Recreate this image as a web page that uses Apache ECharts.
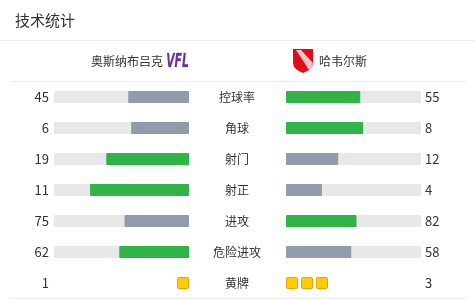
<!DOCTYPE html>
<html>
<head>
    <meta charset="utf-8" />
    <title>技术统计</title>
    <script src="https://cdn.jsdelivr.net/npm/echarts@6/dist/echarts.min.js"></script>
    <style>
        html, body { margin: 0; padding: 0; background: #fff; }
        #main { width: 475px; height: 300px; }
    </style>
</head>
<body>
    <div id="main"></div>
    <script type="text/javascript">
        var homeTeam = '奥斯纳布吕克';
        var awayTeam = '哈韦尔斯';
        var statNames = ['控球率', '角球', '射门', '射正', '进攻', '危险进攻', '黄牌'];
        var homeVals = [45, 6, 19, 11, 75, 62, 1];
        var awayVals = [55, 8, 12, 4, 82, 58, 3];
        var cardRow = 6; // 黄牌 drawn as little cards

        var GREEN = '#30b447', GREY = '#929bab', TRACK = '#e8e8e8';
        var FONT = '"Noto Sans CJK SC", "Noto Sans", sans-serif';

        function sideData(mine, theirs) {
            return mine.map(function (v, i) {
                return [v / (v + theirs[i]), i, v, v > theirs[i] ? 1 : 0];
            });
        }

        function renderRow(params, api) {
            var i = api.value(1);
            var p0 = api.coord([0, i]);
            var p1 = api.coord([1, i]);
            var dir = p1[0] > p0[0] ? 1 : -1;
            var h = 12;
            var y = p0[1] - h / 2;
            var children = [];
            if (i === cardRow) {
                var n = api.value(2);
                for (var k = 0; k < n; k++) {
                    var s = p0[0] + dir * k * 15;
                    children.push({
                        type: 'rect',
                        shape: { x: dir > 0 ? s + 0.5 : s - 11.5, y: y + 0.5, width: 11, height: 11, r: 1 },
                        style: { fill: '#ffcc00', stroke: '#e2a600', lineWidth: 1 }
                    });
                }
                return { type: 'group', children: children };
            }
            children.push({
                type: 'rect',
                shape: { x: Math.min(p0[0], p1[0]), y: y, width: Math.abs(p1[0] - p0[0]), height: h, r: 1 },
                style: { fill: TRACK }
            });
            var pf = api.coord([api.value(0), i]);
            children.push({
                type: 'rect',
                shape: { x: Math.min(p0[0], pf[0]), y: y, width: Math.abs(pf[0] - p0[0]), height: h, r: 1 },
                style: { fill: api.value(3) ? GREEN : GREY }
            });
            return { type: 'group', children: children };
        }

        var myChart = echarts.init(document.getElementById('main'));

        var option = {
            animation: false,
            grid: [
                { left: 54, width: 135, top: 81.5, height: 217 },
                { left: 286, width: 135, top: 81.5, height: 217 }
            ],
            xAxis: [
                { gridIndex: 0, type: 'value', min: 0, max: 1, inverse: true, show: false },
                { gridIndex: 1, type: 'value', min: 0, max: 1, show: false }
            ],
            yAxis: [
                {
                    gridIndex: 0, type: 'category', data: statNames, inverse: true, position: 'left',
                    axisLine: { show: false }, axisTick: { show: false }, splitLine: { show: false },
                    axisLabel: {
                        margin: 5, fontSize: 13, color: '#333', fontFamily: FONT,
                        formatter: function (v, idx) { return homeVals[idx]; }
                    }
                },
                {
                    gridIndex: 0, type: 'category', data: statNames, inverse: true, position: 'right',
                    axisLine: { show: false }, axisTick: { show: false }, splitLine: { show: false },
                    axisLabel: { margin: 48, align: 'center', fontSize: 12, color: '#333', fontFamily: FONT }
                },
                {
                    gridIndex: 1, type: 'category', data: statNames, inverse: true, position: 'right',
                    axisLine: { show: false }, axisTick: { show: false }, splitLine: { show: false },
                    axisLabel: {
                        margin: 4, fontSize: 13, color: '#333', fontFamily: FONT,
                        formatter: function (v, idx) { return awayVals[idx]; }
                    }
                }
            ],
            series: [
                {
                    type: 'custom', xAxisIndex: 0, yAxisIndex: 0,
                    renderItem: renderRow, data: sideData(homeVals, awayVals)
                },
                {
                    type: 'custom', xAxisIndex: 1, yAxisIndex: 2,
                    renderItem: renderRow, data: sideData(awayVals, homeVals)
                }
            ],
            graphic: [
                {
                    type: 'text', x: 15, y: 20,
                    style: { text: '技术统计', fontSize: 15, fill: '#333', fontFamily: FONT, verticalAlign: 'middle' }
                },
                { type: 'line', shape: { x1: 0, y1: 40.5, x2: 475, y2: 40.5 }, style: { stroke: '#ececec', lineWidth: 1 } },
                { type: 'line', shape: { x1: 10, y1: 81.5, x2: 466, y2: 81.5 }, style: { stroke: '#ececec', lineWidth: 1 } },
                { type: 'line', shape: { x1: 10, y1: 298.5, x2: 466, y2: 298.5 }, style: { stroke: '#ececec', lineWidth: 1 } },
                {
                    type: 'text', x: 163, y: 61,
                    style: { text: homeTeam, fontSize: 12, fill: '#333', fontFamily: FONT, align: 'right', verticalAlign: 'middle' }
                },
                // VfL badge
                {
                    type: 'text', x: 177.5, y: 62,
                    style: {
                        text: 'VFL', fontSize: 20, fontWeight: 'bold', fontStyle: 'italic',
                        fontFamily: '"DejaVu Sans Condensed", sans-serif',
                        fill: '#6e2f93', stroke: '#d9c6e6', lineWidth: 0.8,
                        align: 'center', verticalAlign: 'middle'
                    },
                    scaleX: 0.6
                },
                // Havelse shield
                {
                    type: 'polygon',
                    shape: { points: [[293, 49], [313, 49], [313, 63], [312, 67], [309, 70], [303, 73], [297, 70], [294, 67], [293, 63]] },
                    style: { fill: '#e30b1a' }
                },
                {
                    type: 'polygon',
                    shape: { points: [[296, 50], [301, 50], [313, 63], [312, 68], [309, 70]] },
                    style: { fill: '#f6c3c7' }
                },
                {
                    type: 'text', x: 319, y: 61,
                    style: { text: awayTeam, fontSize: 12, fill: '#333', fontFamily: FONT, align: 'left', verticalAlign: 'middle' }
                }
            ]
        };

        myChart.setOption(option);
    </script>
</body>
</html>
